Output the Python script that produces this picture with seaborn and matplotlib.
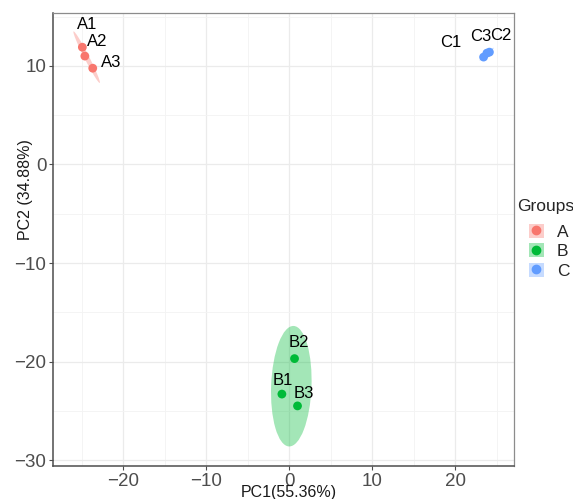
import numpy as np
import pandas as pd
import matplotlib
matplotlib.use("Agg")
from matplotlib import pyplot
from matplotlib.patches import Ellipse, Patch
from matplotlib.lines import Line2D
import seaborn as sns

# data ##########################
samples = ["A1", "A2", "A3", "B1", "B2", "B3", "C1", "C2", "C3"]
groups = ["A", "A", "A", "B", "B", "B", "C", "C", "C"]
pc1 = [-24.9, -24.6, -23.65, -0.88, 0.64, 1.0, 23.4, 24.1, 23.8]
pc2 = [11.9, 11.0, 9.77, -23.3, -19.7, -24.5, 10.9, 11.4, 11.3]
group_names = ["A", "B", "C"]
colors = ["#F8766D", "#00BA38", "#619CFF"]
##################################

# label offsets (points) like ggrepel placed them
label_dx = [3.4, 9.1, 13.2, 0.4, 2.9, 4.3, -23.9, 7.9, -4.7]
label_dy = [16.3, 10.3, 3.8, 9.6, 11.5, 8.9, 10.2, 12.2, 12.2]

df = pd.DataFrame({"sample": samples, "Groups": groups, "PC1": pc1, "PC2": pc2})
palette = dict(zip(group_names, colors))

sns.set_style("white")
pyplot.rcParams["font.family"] = ["Liberation Sans", "DejaVu Sans"]

W, H = 573, 499
fig = pyplot.figure(figsize=(W / 100, H / 100), dpi=100)
ax = fig.add_axes([0.093, 0.0661, 0.8046, 0.9084])

# confidence ellipses (normal, 95%)
r = np.sqrt(-2 * np.log(0.05))
for g in group_names:
    sub = df[df["Groups"] == g]
    xy = sub[["PC1", "PC2"]].to_numpy()
    mu = xy.mean(axis=0)
    cov = np.cov(xy, rowvar=False)
    vals, vecs = np.linalg.eigh(cov)
    vals = np.clip(vals, 1e-6, None)
    ang = np.degrees(np.arctan2(vecs[1, 1], vecs[0, 1]))
    ell = Ellipse(mu, 2 * r * np.sqrt(vals[1]), 2 * r * np.sqrt(vals[0]), angle=ang,
                  facecolor=palette[g], alpha=0.36, edgecolor="none", zorder=2)
    ax.add_patch(ell)

sns.scatterplot(data=df, x="PC1", y="PC2", hue="Groups", palette=palette, s=40,
                edgecolor="none", legend=False, ax=ax, zorder=3)

for i, s in enumerate(samples):
    ax.annotate(s, (pc1[i], pc2[i]), xytext=(label_dx[i], label_dy[i]),
                textcoords="offset points", ha="center", va="center",
                fontsize=12, color="black", zorder=4)

ax.set_xlim(-28.4, 27.1)
ax.set_ylim(-30.6, 15.4)
ax.set_xticks([-20, -10, 0, 10, 20])
ax.set_yticks([-30, -20, -10, 0, 10])
ax.set_xticks([-25, -15, -5, 5, 15, 25], minor=True)
ax.set_yticks([-25, -15, -5, 5, 15], minor=True)
ax.set_xticklabels(["\u221220", "\u221210", "0", "10", "20"])
ax.set_yticklabels(["\u221230", "\u221220", "\u221210", "0", "10"])
ax.grid(which="major", color="#EBEBEB", lw=0.9)
ax.grid(which="minor", color="#F3F3F3", lw=0.6)
ax.set_axisbelow(True)
ax.tick_params(which="major", direction="out", length=3, width=0.8, color="#4D4D4D",
               labelcolor="#4D4D4D", labelsize=13.5, pad=2, left=True, bottom=True)
ax.tick_params(which="minor", length=0)
for side in ["left", "bottom"]:
    ax.spines[side].set_color("#4D4D4D")
    ax.spines[side].set_linewidth(1.1)
for side in ["top", "right"]:
    ax.spines[side].set_color("#8C8C8C")
    ax.spines[side].set_linewidth(0.9)

ax.set_xlabel("PC1(55.36%)", fontsize=11.5, color="#1A1A1A")
ax.set_ylabel("PC2 (34.88%)", fontsize=11.5, color="#1A1A1A")
ax.xaxis.set_label_coords(0.51, -0.041)
ax.yaxis.set_label_coords(-0.044, 0.61)

# legend: title as text, keys indented below it
fig.text(517 / W, 1 - 206 / H, "Groups", ha="left", va="center", fontsize=12.5)
handles = [(Patch(facecolor=c, alpha=0.36, edgecolor="none"),
            Line2D([], [], marker="o", color=c, ls="none", markersize=6)) for c in colors]
ax.legend(handles, group_names, loc="upper left", bbox_to_anchor=(529 / W, 1 - 224 / H),
          bbox_transform=fig.transFigure, frameon=False, fontsize=12.5, borderpad=0,
          borderaxespad=0, handlelength=0.85, handleheight=0.85, handletextpad=0.75,
          labelspacing=0.2)

fig.savefig("out.png", dpi=100)
